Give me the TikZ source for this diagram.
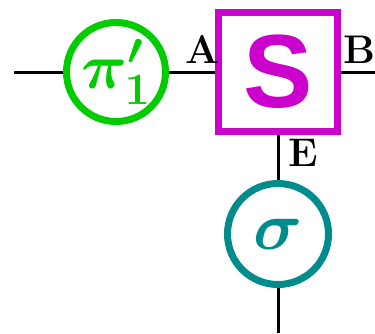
\RequirePackage{fix-cm}
\documentclass[tikz,border=0pt]{standalone}
\usepackage{amsmath,amssymb,bm}
\usepackage{fontspec}
\newfontfamily\gatefont{Liberation Sans}
\usepackage{tikz}
\usetikzlibrary{positioning}
\definecolor{pigreen}{RGB}{0,204,0}
\definecolor{smag}{RGB}{204,0,204}
\definecolor{sigteal}{RGB}{0,140,140}

\begin{document}
\begin{tikzpicture}[every node/.style={font=\fontsize{20}{22}\selectfont\bfseries}]
\tikzstyle{wire}=[line width=1.5pt]
\tikzstyle{gate}=[circle, draw, line width=3.5pt, minimum size=49.5pt, inner sep=0pt]
\tikzstyle{tens}=[rectangle, draw=smag, line width=3.5pt, minimum size=59.5pt, inner sep=0pt]
\useasboundingbox (0,0) rectangle (187.5pt,-166.5pt);
\node[gate, draw=pigreen, text=pigreen, font=\fontsize{32}{34}\selectfont] (pi) at (58pt,-36pt) {$\bm{\pi'_1}$};
\node[tens, right=23pt of pi, text=smag, font=\fontsize{52}{54}\selectfont\gatefont\bfseries] (S) {S};
\node[gate, draw=sigteal, text=sigteal, minimum size=50.5pt, below=22.5pt of S, font=\fontsize{34}{36}\selectfont] (sig) {$\bm{\sigma}$};
\coordinate (in) at (7pt,-36pt);
\coordinate (out) at (187.5pt,-36pt);
\coordinate (down) at (sig |- 0,-166.5pt);
\draw[wire] (in) -- (pi);
\draw[wire] (pi) -- node[pos=0.72, above=0pt] (A) {A} (S);
\draw[wire] (S) -- node[pos=0.55, above=0pt] (B) {B} (out);
\draw[wire] (S) -- node[right=1pt, pos=0.4] (E) {E} (sig);
\draw[wire] (sig) -- (down);
\end{tikzpicture}
\end{document}
